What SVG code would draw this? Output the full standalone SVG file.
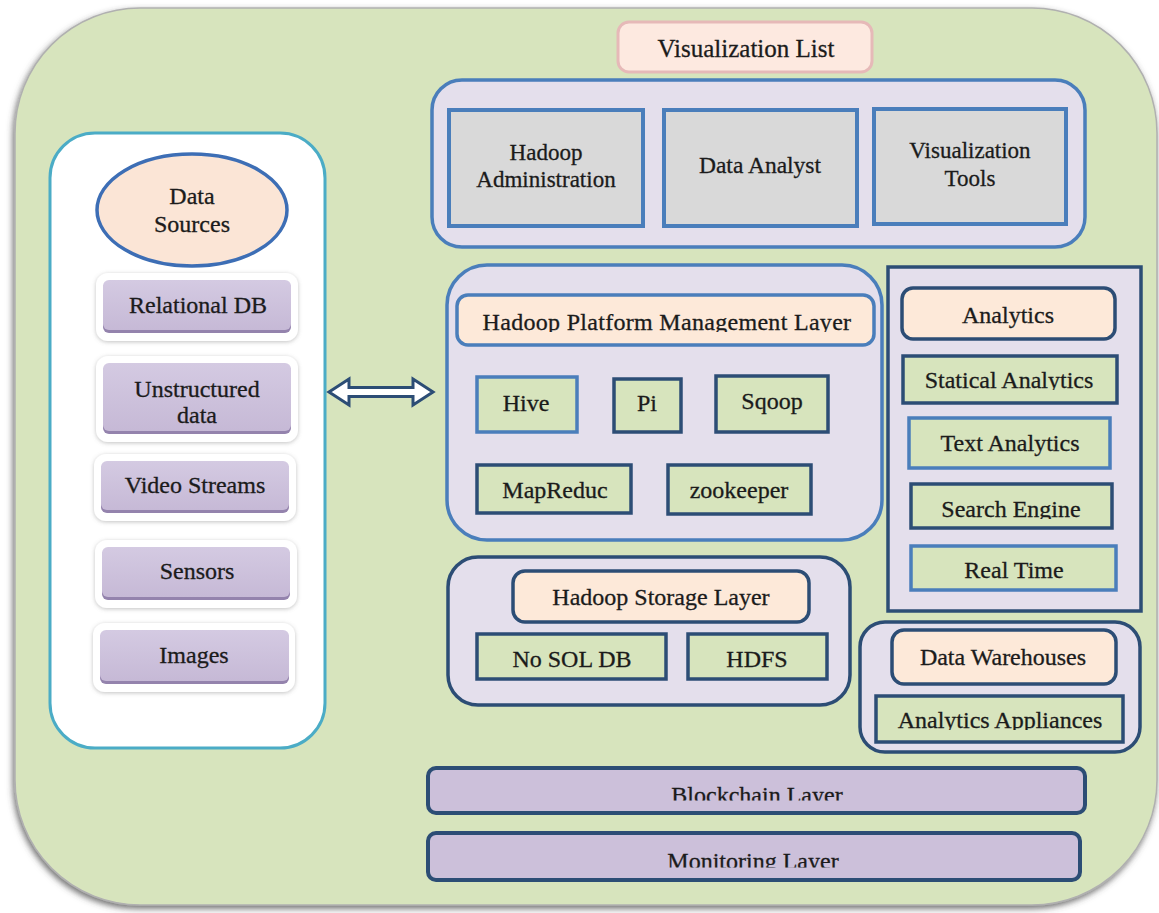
<svg xmlns="http://www.w3.org/2000/svg" width="1159" height="913" viewBox="0 0 1159 913">
<defs>
<style>
.t{font-family:"Liberation Serif","Times New Roman",serif;font-size:24px;fill:#1b1b1b;stroke:#1b1b1b;stroke-width:0.3;text-anchor:middle}
.lav{fill:#e4dfec}
.bl{stroke:#4a7ebb;stroke-width:3.5}
.dk{stroke:#2c4d75;stroke-width:3.5}
.grn{fill:#d7e4bd}
.pch{fill:#fde9d9}
.gry{fill:#d9d9d9;stroke:#4a7ebb;stroke-width:4}
.halo{fill:#ffffff;filter:url(#soft)}
.btn{fill:url(#pg)}
.btnb{fill:#9483ad}
</style>
<filter id="outerShadow" x="-5%" y="-5%" width="110%" height="110%">
<feDropShadow dx="-1.5" dy="3" stdDeviation="3" flood-color="#444" flood-opacity="0.75"/>
</filter>
<filter id="soft" x="-20%" y="-30%" width="140%" height="160%">
<feDropShadow dx="0" dy="1" stdDeviation="2" flood-color="#777" flood-opacity="0.45"/>
</filter>
<linearGradient id="pg" x1="0" y1="0" x2="0" y2="1">
<stop offset="0" stop-color="#d4cae2"/>
<stop offset="1" stop-color="#c6b9d6"/>
</linearGradient>
<clipPath id="cHP"><rect x="440" y="290" width="440" height="42"/></clipPath>
<clipPath id="cSA"><rect x="900" y="360" width="220" height="30"/></clipPath>
<clipPath id="cSE"><rect x="900" y="488" width="220" height="31"/></clipPath>
<clipPath id="cAA"><rect x="870" y="698" width="260" height="32"/></clipPath>
<clipPath id="cBL"><rect x="430" y="770" width="650" height="30.5"/></clipPath>
<clipPath id="cML"><rect x="430" y="836" width="650" height="31.5"/></clipPath>
</defs>

<g id="background">
<rect x="15" y="8" width="1142" height="897" rx="125" ry="125" fill="#d7e4bd" stroke="#b0b0b0" stroke-width="1.5" filter="url(#outerShadow)"/>
</g>

<g id="data-sources-panel">
<rect x="50" y="133" width="275" height="615" rx="45" ry="45" fill="#ffffff" stroke="#4bacc6" stroke-width="3"/>
</g>

<g id="data-sources">
<ellipse cx="192" cy="210" rx="95" ry="56" fill="#fbe5d6" stroke="#3d6eb5" stroke-width="3.5"/>
<text class="t" x="192" y="204">Data</text>
<text class="t" x="192" y="232">Sources</text>
</g>

<g id="relational-db">
<rect class="halo" x="96" y="273" width="202" height="68" rx="12"/>
<rect class="btnb" x="103" y="282" width="188" height="51" rx="6"/>
<rect class="btn" x="103" y="280" width="188" height="50" rx="6"/>
<text class="t" x="198" y="313">Relational DB</text>
</g>

<g id="unstructured-data">
<rect class="halo" x="96" y="356" width="202" height="86" rx="12"/>
<rect class="btnb" x="103" y="365" width="188" height="69" rx="6"/>
<rect class="btn" x="103" y="363" width="188" height="68" rx="6"/>
<text class="t" x="197" y="397">Unstructured</text>
<text class="t" x="197" y="423">data</text>
</g>

<g id="video-streams">
<rect class="halo" x="94" y="454" width="202" height="67" rx="12"/>
<rect class="btnb" x="101" y="463" width="188" height="50" rx="6"/>
<rect class="btn" x="101" y="461" width="188" height="49" rx="6"/>
<text class="t" x="195" y="493">Video Streams</text>
</g>

<g id="sensors">
<rect class="halo" x="95" y="540" width="202" height="68" rx="12"/>
<rect class="btnb" x="102" y="549" width="188" height="51" rx="6"/>
<rect class="btn" x="102" y="547" width="188" height="50" rx="6"/>
<text class="t" x="197" y="579">Sensors</text>
</g>

<g id="images">
<rect class="halo" x="93" y="623" width="202" height="69" rx="12"/>
<rect class="btnb" x="100" y="632" width="189" height="52" rx="6"/>
<rect class="btn" x="100" y="630" width="189" height="51" rx="6"/>
<text class="t" x="194" y="663">Images</text>
</g>

<g id="connectors">
<path d="M329,392 L349,379 L349,387.5 L413,387.5 L413,379 L433,392 L413,405 L413,396.5 L349,396.5 L349,405 Z" fill="#ffffff" stroke="#2c4d75" stroke-width="3" stroke-linejoin="miter"/>
</g>

<g id="visualization-list">
<rect x="618" y="22" width="254" height="50" rx="11" fill="#fde9e0" stroke="#e6b9b8" stroke-width="3"/>
<text class="t" x="746" y="57" style="font-size:25px">Visualization List</text>
</g>

<g id="visualization-panel">
<rect class="lav bl" x="432" y="80" width="653" height="167" rx="30"/>
</g>

<g id="hadoop-administration">
<rect class="gry" x="449" y="110" width="194" height="116"/>
<text class="t" x="546" y="160" style="font-size:23px">Hadoop</text>
<text class="t" x="546" y="187" style="font-size:23px">Administration</text>
</g>

<g id="data-analyst">
<rect class="gry" x="664" y="110" width="193" height="116"/>
<text class="t" x="760" y="173" style="font-size:23.5px">Data Analyst</text>
</g>

<g id="visualization-tools">
<rect class="gry" x="874" y="109" width="192" height="115"/>
<text class="t" x="970" y="158" style="font-size:23px">Visualization</text>
<text class="t" x="970" y="186" style="font-size:23px">Tools</text>
</g>

<g id="hadoop-platform-panel">
<rect class="lav bl" x="447" y="265" width="435" height="275" rx="40"/>
</g>

<g id="hadoop-platform-management-layer">
<rect class="pch bl" x="457" y="295" width="417" height="50" rx="11"/>
<text class="t" x="667" y="330" clip-path="url(#cHP)" style="letter-spacing:0.3px">Hadoop Platform Management Layer</text>
</g>

<g id="hive">
<rect class="grn bl" x="477" y="377" width="100" height="55"/>
<text class="t" x="526" y="411">Hive</text>
</g>
<g id="pi">
<rect class="grn dk" x="614" y="379" width="67" height="53"/>
<text class="t" x="647" y="411">Pi</text>
</g>
<g id="sqoop">
<rect class="grn dk" x="716" y="376" width="112" height="56"/>
<text class="t" x="772" y="409">Sqoop</text>
</g>
<g id="mapreduc">
<rect class="grn dk" x="477" y="465" width="154" height="48"/>
<text class="t" x="555" y="498">MapReduc</text>
</g>
<g id="zookeeper">
<rect class="grn dk" x="668" y="465" width="143" height="49"/>
<text class="t" x="739" y="498">zookeeper</text>
</g>

<g id="analytics-panel">
<rect class="lav dk" x="888" y="267" width="253" height="344"/>
</g>
<g id="analytics">
<rect class="pch dk" x="902" y="288" width="213" height="51" rx="11"/>
<text class="t" x="1008" y="323">Analytics</text>
</g>
<g id="statical-analytics">
<rect class="grn dk" x="903" y="356" width="214" height="47"/>
<text class="t" x="1009" y="388" clip-path="url(#cSA)">Statical Analytics</text>
</g>
<g id="text-analytics">
<rect class="grn bl" x="909" y="418" width="201" height="50"/>
<text class="t" x="1010" y="451">Text Analytics</text>
</g>
<g id="search-engine">
<rect class="grn dk" x="911" y="484" width="201" height="44"/>
<text class="t" x="1011" y="517" clip-path="url(#cSE)">Search Engine</text>
</g>
<g id="real-time">
<rect class="grn bl" x="911" y="546" width="205" height="44"/>
<text class="t" x="1014" y="578">Real Time</text>
</g>

<g id="storage-panel">
<rect class="lav dk" x="448" y="557" width="402" height="148" rx="30"/>
</g>
<g id="hadoop-storage-layer">
<rect class="pch dk" x="513" y="571" width="296" height="51" rx="12"/>
<text class="t" x="661" y="605">Hadoop Storage Layer</text>
</g>
<g id="nosql-db">
<rect class="grn dk" x="477" y="634" width="189" height="45"/>
<text class="t" x="572" y="667">No SOL DB</text>
</g>
<g id="hdfs">
<rect class="grn dk" x="688" y="634" width="139" height="45"/>
<text class="t" x="757" y="667">HDFS</text>
</g>

<g id="warehouse-panel">
<rect class="lav dk" x="860" y="622" width="280" height="130" rx="25"/>
</g>
<g id="data-warehouses">
<rect class="pch dk" x="892" y="630" width="224" height="54" rx="12"/>
<text class="t" x="1003" y="665">Data Warehouses</text>
</g>
<g id="analytics-appliances">
<rect class="grn dk" x="876" y="696" width="247" height="46"/>
<text class="t" x="1000" y="728" clip-path="url(#cAA)">Analytics Appliances</text>
</g>

<g id="blockchain-layer">
<rect x="428" y="768" width="657" height="45" rx="8" fill="#ccc0da" stroke="#2c4d75" stroke-width="4"/>
<text class="t" x="757" y="803" clip-path="url(#cBL)">Blockchain Layer</text>
</g>
<g id="monitoring-layer">
<rect x="428" y="833" width="652" height="47" rx="8" fill="#ccc0da" stroke="#2c4d75" stroke-width="4"/>
<text class="t" x="753" y="869" clip-path="url(#cML)">Monitoring Layer</text>
</g>
</svg>
